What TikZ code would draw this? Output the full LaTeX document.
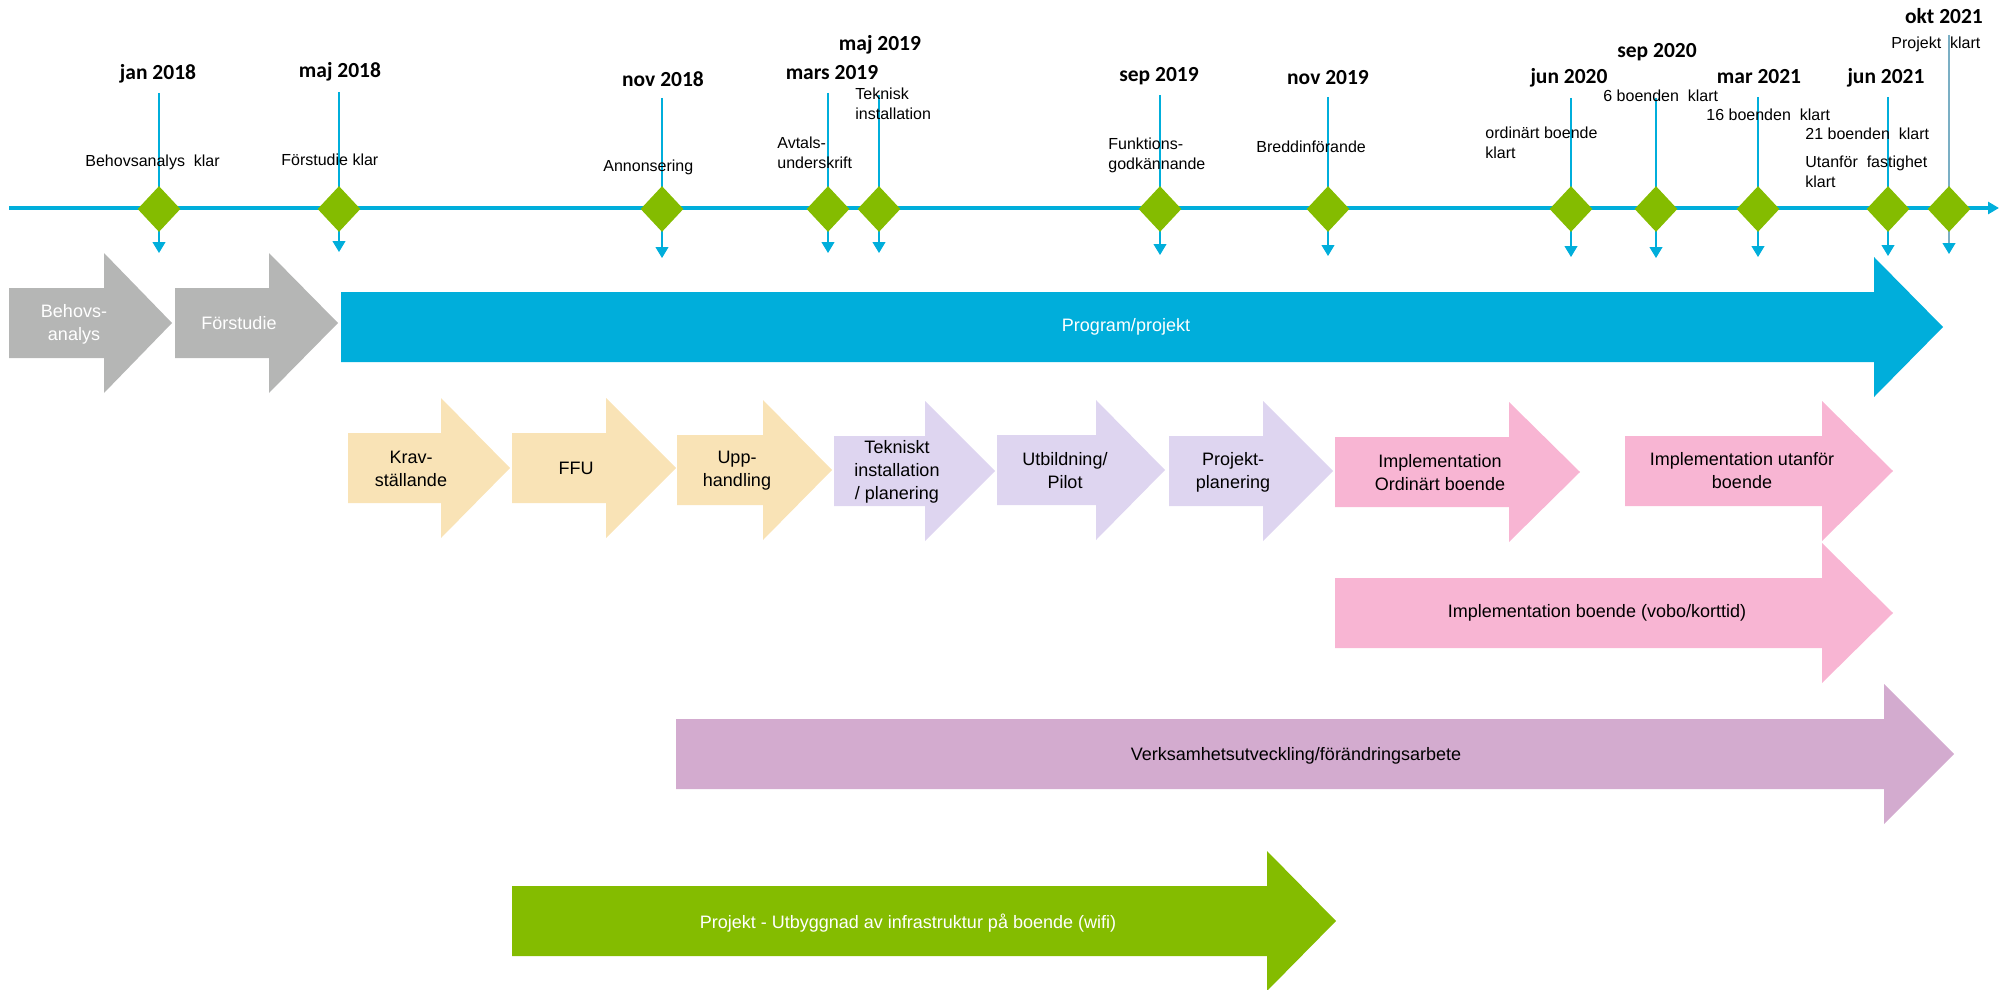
\documentclass[tikz,border=0pt]{standalone}
\usepackage{fontspec}
\setmainfont{Liberation Sans}
\newfontfamily\datefont{Carlito}
\usetikzlibrary{arrows.meta,shapes.geometric}
\definecolor{tlblue}{HTML}{00AEDB}
\definecolor{msgreen}{HTML}{84BC00}
\definecolor{grayarr}{HTML}{B5B6B5}
\definecolor{peach}{HTML}{F9E3B6}
\definecolor{lav}{HTML}{DED5F0}
\definecolor{pinkarr}{HTML}{F8B5D3}
\definecolor{mauve}{HTML}{D3ABCF}
\definecolor{okline}{HTML}{7BAFC4}
\newcommand\pharrow[5]{%
  \fill[#1] (#2,#5-35) -- (#3,#5-35) -- (#3,#5-70) -- (#4,#5) -- (#3,#5+70)
    -- (#3,#5+35) -- (#2,#5+35) -- cycle;}
\tikzset{
  msdiamond/.style={diamond, fill=msgreen, inner sep=0pt, minimum width=21.5pt, minimum height=23pt},
  msline/.style={draw=tlblue, line width=0.55pt, -{Triangle[width=6.5pt,length=5.5pt,color=tlblue]}},
  datelbl/.style={font=\datefont\bfseries\fontsize{10.75}{13}\selectfont, inner sep=0pt},
  evlbl/.style={font=\fontsize{8}{10}\selectfont, align=left, anchor=west, inner sep=0pt},
  atext/.style={font=\fontsize{9}{11.5}\selectfont, align=center, inner sep=0pt},
  wtext/.style={atext, text=white},
}
\begin{document}
\begin{tikzpicture}[x=0.5pt,y=-0.5pt]
\useasboundingbox (0,0) rectangle (2004,990);
% big arrows
\pharrow{grayarr}{9}{104}{172}{323}
\pharrow{grayarr}{175}{269}{338}{323}
\pharrow{tlblue}{341}{1874}{1943}{327}
\pharrow{peach}{348}{441}{510}{468}
\pharrow{peach}{512}{606}{676}{468}
\pharrow{peach}{677}{763}{832}{470}
\pharrow{lav}{834}{925}{995}{471}
\pharrow{lav}{997}{1096}{1165}{470}
\pharrow{lav}{1169}{1263}{1333}{471}
\pharrow{pinkarr}{1335}{1509}{1580}{472}
\pharrow{pinkarr}{1625}{1822}{1893}{471}
\pharrow{pinkarr}{1335}{1822}{1893}{613}
\pharrow{mauve}{676}{1884}{1954}{754}
\pharrow{msgreen}{512}{1267}{1336}{921}
% arrow texts
\node[wtext] (behov) at (74,324) {Behovs-\\analys};
\node[wtext] (forst) at (239,323) {Förstudie};
\node[wtext] (prog) at (1126,327) {Program/projekt};
\node[atext] (krav) at (411,469) {Krav-\\ställande};
\node[atext] (ffu) at (576,468) {FFU};
\node[atext] (upph) at (737,471) {Upp-\\handling};
\node[atext] (tekn) at (897,472) {Tekniskt\\installation\\/ planering};
\node[atext] (utb) at (1065,471) {Utbildning/\\Pilot};
\node[atext] (pplan) at (1233,472) {Projekt-\\planering};
\node[atext] (implo) at (1440,473) {Implementation\\Ordinärt boende};
\node[atext] (implu) at (1742,471) {Implementation utanför\\boende};
\node[atext] (implb) at (1597,613) {Implementation boende (vobo/korttid)};
\node[atext] (verks) at (1296,756) {Verksamhetsutveckling/förändringsarbete};
\node[wtext] (wifi) at (908,923) {Projekt - Utbyggnad av infrastruktur på boende (wifi)};
% timeline
\coordinate (tlA) at (9,208);
\coordinate (tlB) at (1999,208);
\draw[tlblue, line width=1.6pt, -{Triangle[width=6pt,length=5.5pt]}] (tlA) -- (tlB);
% milestones
\foreach \i/\x/\yt/\yb in {1/159/93/253, 2/339/92/252, 3/662/98/258, 4/828/93/253,
  5/879/95/253, 6/1160/95/255, 7/1328/97/256, 8/1571/98/257, 9/1656/98/258,
  10/1758/97/257, 11/1888/97/256}{
  \coordinate (t\i) at (\x,\yt);
  \coordinate (b\i) at (\x,\yb);
  \draw[msline] (t\i) -- (b\i);
  \node[msdiamond] (d\i) at (\x,209) {};
}
\coordinate (t12) at (1949,35);
\coordinate (b12) at (1949,254);
\draw[msline, draw=okline] (t12) -- (b12);
\node[msdiamond] (d12) at (1949,209) {};
% dates
\node[datelbl] (dt1) at (158,74) {jan 2018};
\node[datelbl] (dt2) at (340,72) {maj 2018};
\node[datelbl] (dt3) at (663,79) {nov 2018};
\node[datelbl] (dt4) at (832,73) {mars 2019};
\node[datelbl] (dt5) at (880,45) {maj 2019};
\node[datelbl] (dt6) at (1159,76) {sep 2019};
\node[datelbl] (dt7) at (1328,78) {nov 2019};
\node[datelbl] (dt8) at (1569,78) {jun 2020};
\node[datelbl] (dt9) at (1657,52) {sep 2020};
\node[datelbl] (dt10) at (1759,77) {mar 2021};
\node[datelbl] (dt11) at (1886,78) {jun 2021};
\node[datelbl] (dt12) at (1944,16) {okt 2021};
% event labels
\node[evlbl] (e1) at (85,162) {Behovsanalys\ \ klar};
\node[evlbl] (e2) at (281,160) {Förstudie klar};
\node[evlbl] (e3) at (603,167) {Annonsering};
\node[evlbl] (e4) at (777,153) {Avtals-\\underskrift};
\node[evlbl] (e5) at (855,104) {Teknisk\\installation};
\node[evlbl] (e6) at (1108,155) {Funktions-\\godkännande};
\node[evlbl] (e7) at (1256,147) {Breddinförande};
\node[evlbl] (e8) at (1485,143) {ordinärt boende\\klart};
\node[evlbl] (e9) at (1603,96) {6 boenden\ \ klart};
\node[evlbl] (e10) at (1706,115) {16 boenden\ \ klart};
\node[evlbl] (e11) at (1805,134) {21 boenden\ \ klart};
\node[evlbl] (e12) at (1805,172) {Utanför\ \ fastighet\\klart};
\node[evlbl] (e13) at (1891,44) {Projekt\ \ klart};
\end{tikzpicture}
\end{document}
